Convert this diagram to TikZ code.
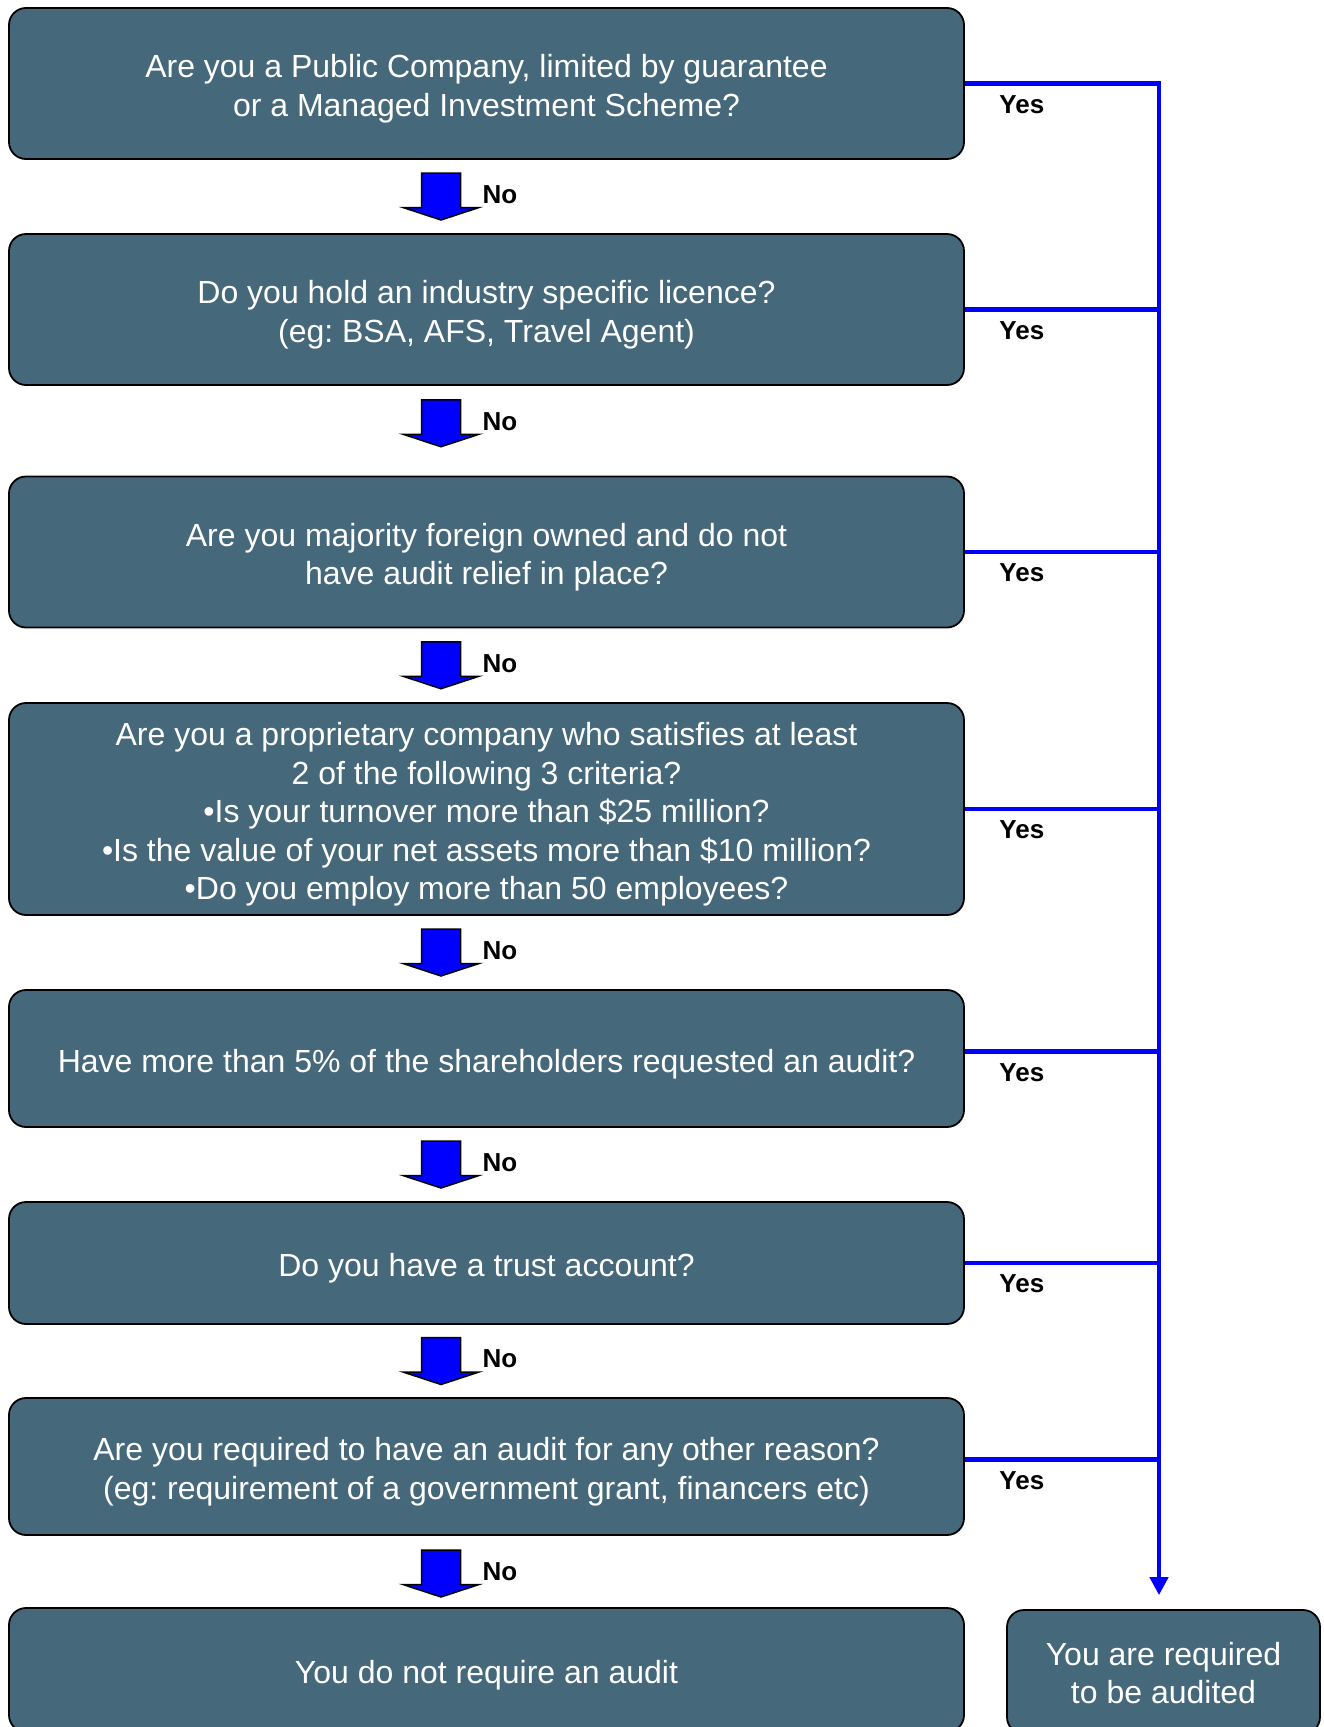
\documentclass[tikz,border=0pt]{standalone}
\usepackage{fontspec}
\setmainfont{Liberation Sans}
\usepackage{xcolor}
\usepackage{tikz}
\usetikzlibrary{calc,arrows.meta}
\definecolor{boxfill}{HTML}{45687B}
\definecolor{yesblue}{HTML}{0000FF}
\tikzset{
  qbox/.style={draw=black, line width=1.8pt, fill=boxfill, rounded corners=17pt,
    text=white, align=flush center, inner sep=0pt, minimum width=955pt, text width=955pt,
    font=\fontsize{32}{38.5}\selectfont\frenchspacing,
    execute at begin node={\noindent\rule{0pt}{34pt}}},
  yes/.style={draw=yesblue, line width=4.5pt},
  blk/.style={draw=black, fill=yesblue, line width=1.5pt, line join=miter},
  lbl/.style={text=black, font=\fontsize{26}{30}\selectfont\bfseries, inner sep=0pt},
  noarrow/.pic={
    \draw[blk] (-19.5,-23.5) -- (19.5,-23.5) -- (19.5,11) -- (38,11) -- (0,23.5)
      -- (-38,11) -- (-19.5,11) -- cycle;
    \node[lbl] (-no) at (59,-2) {No};
  }
}

\begin{document}
\begin{tikzpicture}[x=1pt,y=-1pt]
\useasboundingbox (0,0) rectangle (1324,1727);

% questions
\node[qbox, minimum height=151pt] (q1) at (486.5,83.5)
  {Are you a Public Company, limited by guarantee\\or a Managed Investment Scheme?};
\node[qbox, minimum height=151pt] (q2) at (486.5,309.5)
  {Do you hold an industry specific licence?\\(eg: BSA, AFS, Travel Agent)};
\node[qbox, minimum height=151pt] (q3) at (486.5,552)
  {Are you majority foreign owned and do not\\have audit relief in place?};
\node[qbox, minimum height=212pt] (q4) at (486.5,809)
  {Are you a proprietary company who satisfies at least\\2 of the following 3 criteria?\\
   •Is your turnover more than \$25 million?\\
   •Is the value of your net assets more than \$10 million?\\
   •Do you employ more than 50 employees?};
\node[qbox, minimum height=137pt] (q5) at (486.5,1058.5)
  {Have more than 5\% of the shareholders requested an audit?};
\node[qbox, minimum height=122pt] (q6) at (486.5,1263)
  {Do you have a trust account?};
\node[qbox, minimum height=137pt] (q7) at (486.5,1466.5)
  {Are you required to have an audit for any other reason?\\(eg: requirement of a government grant, financers etc)};

% outcomes
\node[qbox, minimum height=124pt] (stop) at (486.5,1670) {You do not require an audit};
\node[qbox, minimum height=124pt, minimum width=313pt, text width=313pt] (audit) at (1163.5,1672)
  {You are required\\to be audited\rule[-9pt]{0pt}{9pt}};

% no arrows
\pic (n1) at ($(q1.south)!0.5!(q2.north)+(-45.5,0)$) {noarrow};
\pic (n2) at ($(q2.south)!0.5!(q3.north)+(-45.5,-7.5)$) {noarrow};
\pic (n3) at ($(q3.south)!0.5!(q4.north)+(-45.5,0)$) {noarrow};
\pic (n4) at ($(q4.south)!0.5!(q5.north)+(-45.5,0)$) {noarrow};
\pic (n5) at ($(q5.south)!0.5!(q6.north)+(-45.5,0)$) {noarrow};
\pic (n6) at ($(q6.south)!0.5!(q7.north)+(-45.5,0)$) {noarrow};
\pic (n7) at ($(q7.south)!0.5!(stop.north)+(-45.5,2)$) {noarrow};

% yes lines
\coordinate (bus) at (1159,83);
\draw[yes, -{Triangle[width=18pt,length=18pt]}, shorten >=14pt] (q1.east) -| (bus |- audit.north);
\draw[yes] (q2.east) -- (q2.east -| bus);
\draw[yes] (q3.east) -- (q3.east -| bus);
\draw[yes] (q4.east) -- (q4.east -| bus);
\draw[yes] ([yshift=7pt]q5.east) -- ([yshift=7pt]q5.east -| bus);
\draw[yes] (q6.east) -- (q6.east -| bus);
\draw[yes] ([yshift=7pt]q7.east) -- ([yshift=7pt]q7.east -| bus);

% yes labels
\node[lbl] (y1) at ($(q1.east)+(57,21)$) {Yes};
\node[lbl] (y2) at ($(q2.east)+(57,21)$) {Yes};
\node[lbl] (y3) at ($(q3.east)+(57,21)$) {Yes};
\node[lbl] (y4) at ($(q4.east)+(57,21)$) {Yes};
\node[lbl] (y5) at ($(q5.east)+(57,14)$) {Yes};
\node[lbl] (y6) at ($(q6.east)+(57,21)$) {Yes};
\node[lbl] (y7) at ($(q7.east)+(57,14)$) {Yes};
\end{tikzpicture}
\end{document}
